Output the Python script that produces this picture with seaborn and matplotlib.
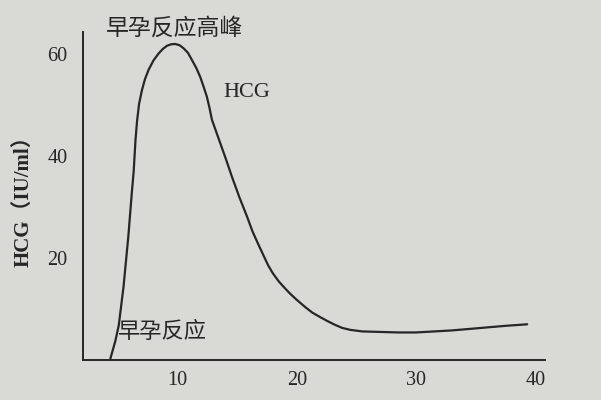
import numpy as np
import pandas as pd
import seaborn as sns
import matplotlib
matplotlib.use("Agg")
import matplotlib.pyplot as plt

# HCG curve (weeks, IU/ml)
weeks = [4.4, 4.8, 5.1, 5.5, 5.9, 6.2, 6.35, 6.5, 6.63, 6.8, 7.04, 7.3, 7.6,
         8.0, 8.44, 8.8, 9.14, 9.5, 9.83, 10.2, 10.53, 10.9, 11.23, 11.6,
         11.92, 12.2, 12.48, 12.7, 12.9, 13.25, 13.6, 14.1, 14.58, 15.2,
         15.86, 16.3, 16.8, 17.2, 17.6, 18.0, 18.5, 19.0, 19.45, 20.0, 20.7,
         21.3, 21.97, 22.6, 23.2, 23.8, 24.5, 25.5, 27.0, 28.5, 30.0, 31.5,
         33.0, 34.5, 36.0, 37.5, 39.3]
hcg = [0.3, 3.6, 6.8, 14.4, 24.2, 33.0, 37.0, 43.1, 46.8, 50.2, 52.9, 55.1,
       56.9, 58.7, 60.1, 61.0, 61.6, 61.9, 61.95, 61.7, 61.1, 60.2, 58.8,
       57.2, 55.5, 53.6, 51.6, 49.4, 47.1, 44.8, 42.5, 39.2, 35.9, 31.9,
       28.0, 25.2, 22.6, 20.6, 18.6, 17.0, 15.4, 14.1, 13.0, 11.8, 10.4, 9.3,
       8.4, 7.6, 6.9, 6.3, 5.9, 5.6, 5.5, 5.4, 5.4, 5.6, 5.8, 6.1, 6.4, 6.7,
       7.0]
xticks = [10, 20, 30, 40]
yticks = [20, 40, 60]

df = pd.DataFrame({"week": weeks, "hcg": hcg})

sns.set_style("white")
plt.rcParams['font.family'] = ['Liberation Serif', 'Noto Sans CJK SC']
paper = '#d9d9d5'
ink = '#262626'

fig = plt.figure(figsize=(6.01, 4.0), dpi=100, facecolor=paper)
ax = fig.add_axes([0.138, 0.10, 0.769, 0.82])
ax.set_facecolor(paper)

sns.lineplot(data=df, x="week", y="hcg", ax=ax, color=ink, linewidth=1.6)

ax.set_xlim(2.1, 40.8)
ax.set_ylim(0, 64.3)
ax.set_xticks(xticks)
ax.set_yticks(yticks)
ax.tick_params(direction='in', length=7, width=1.2, colors=ink,
               labelsize=14.5, pad=8)
ax.tick_params(axis='y', pad=11)
for s in ['top', 'right']:
    ax.spines[s].set_visible(False)
for s in ['left', 'bottom']:
    ax.spines[s].set_color(ink)
    ax.spines[s].set_linewidth(1.4)

ax.set_xlabel("")
ax.set_ylabel("HCG（IU/ml）", fontsize=15, fontweight='bold', color=ink,
              family=['Liberation Serif', 'Noto Sans CJK SC'], labelpad=10)

cjk = ['Noto Sans CJK SC', 'DejaVu Sans']
ax.text(9.8, 65.1, "早孕反应高峰", ha='center', va='center', fontsize=16.5,
        color=ink, family=cjk, clip_on=False)
ax.text(15.8, 52.5, "HCG", ha='center', va='center', fontsize=16,
        color=ink, family='Liberation Serif')
ax.text(5.0, 5.6, "早孕反应", ha='left', va='center', fontsize=16,
        color=ink, family=cjk)

fig.savefig("out.png", dpi=100, facecolor=paper)
